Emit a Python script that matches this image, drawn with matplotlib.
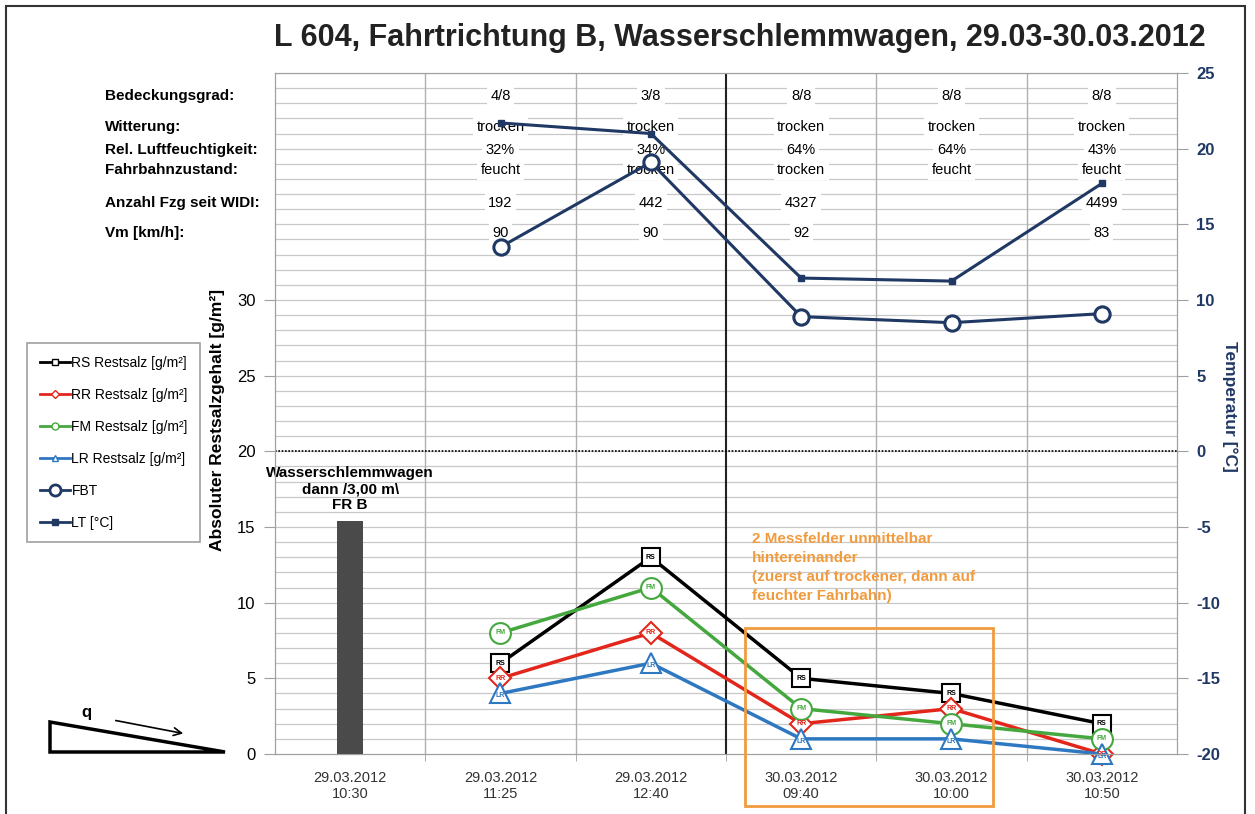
import matplotlib.pyplot as plt
from matplotlib.lines import Line2D
from matplotlib.patches import Rectangle, Polygon, FancyArrowPatch
import numpy as np

plt.rcParams['font.family'] = ['Liberation Sans', 'DejaVu Sans']
plt.rcParams['axes.unicode_minus'] = False

# data
x_labels = ['29.03.2012\n10:30', '29.03.2012\n11:25', '29.03.2012\n12:40',
            '30.03.2012\n09:40', '30.03.2012\n10:00', '30.03.2012\n10:50']
bar_value = 15.4                      # Wasserschlemmwagen dann /3,00 m\ FR B
rs = [np.nan, 6, 13, 5, 4, 2]
rr = [np.nan, 5, 8, 2, 3, 0]
fm = [np.nan, 8, 11, 3, 2, 1]
lr = [np.nan, 4, 6, 1, 1, 0]
fbt = [np.nan, 13.5, 19.1, 8.9, 8.5, 9.1]     # temperature axis
lt = [np.nan, 21.7, 21.0, 11.45, 11.25, 17.7]  # temperature axis

row_labels = ['Bedeckungsgrad:', 'Witterung:', 'Rel. Luftfeuchtigkeit:',
              'Fahrbahnzustand:', 'Anzahl Fzg seit WIDI:', 'Vm [km/h]:']
row_values = [
    ['', '4/8', '3/8', '8/8', '8/8', '8/8'],
    ['', 'trocken', 'trocken', 'trocken', 'trocken', 'trocken'],
    ['', '32%', '34%', '64%', '64%', '43%'],
    ['', 'feucht', 'trocken', 'trocken', 'feucht', 'feucht'],
    ['', '192', '442', '4327', '', '4499'],
    ['', '90', '90', '92', '', '83'],
]
row_y = [43.5, 41.45, 39.9, 38.6, 36.4, 34.4]

W, H = 1255, 814
def fx(px):
    return px / W
def fy(py):
    return 1 - py / H

navy = '#1f3864'
c_rs, c_rr, c_fm, c_lr = 'black', '#e3261c', '#45a83f', '#2e78c2'
c_orange = '#f19a3e'

fig = plt.figure(figsize=(W / 100, H / 100), dpi=100)
ax = fig.add_axes([fx(275), fy(754), fx(1177) - fx(275), fy(73) - fy(754)])
ax2 = ax.twinx()

x = np.arange(len(x_labels))
ax.set_xlim(-0.5, 5.5)
ax.set_ylim(0, 45)
ax2.set_ylim(-20, 25)

# grid
for yv in range(1, 46):
    ax.axhline(yv, color='#c8c8c8', lw=0.9, zorder=0)
for xv in [0.5, 1.5, 3.5, 4.5]:
    ax.axvline(xv, color='#b0b0b0', lw=1.0, zorder=0)
ax.axvline(2.5, color='#222222', lw=1.5, zorder=1)
ax.axhline(20, color='black', lw=1.2, ls=(0, (1, 1)), zorder=1)

for sp in ['left', 'right', 'top', 'bottom']:
    ax.spines[sp].set_color('#a0a0a0')
    ax2.spines[sp].set_color('#a0a0a0')

ax.set_yticks(range(0, 31, 5))
ax.tick_params(axis='y', labelsize=12, length=8, color='#a0a0a0', pad=6)
ax.set_xticks(x)
ax.set_xticklabels(x_labels, fontsize=10.5, color='#333333')
ax.set_xticks(np.arange(0.5, 5.5, 1), minor=True)
ax.tick_params(axis='x', which='major', length=0, pad=12)
ax.tick_params(axis='x', which='minor', length=5, color='#a0a0a0')

ax2.set_yticks(range(-20, 26, 5))
ax2.tick_params(axis='y', labelsize=12, length=8, color='#a0a0a0', labelcolor=navy, pad=6)
for t in ax2.get_yticklabels():
    t.set_fontweight('bold')

ax.set_ylabel('Absoluter Restsalzgehalt [g/m²]', fontsize=12.5, fontweight='bold', labelpad=10)
ax2.set_ylabel('Temperatur [°C]', fontsize=12.5, fontweight='bold', color=navy,
               rotation=270, labelpad=22)
ax2.yaxis.set_label_coords(1.067, 0.51)
ax.yaxis.set_label_coords(-0.055, 0.49)

# bar
ax.bar(x[0], bar_value, width=0.17, color='#4a4a4a', zorder=3)
ax.text(x[0], 19.0, 'Wasserschlemmwagen\ndann /3,00 m\\\nFR B', ha='center', va='top',
        fontsize=11, fontweight='bold', linespacing=1.15, zorder=4)

# table rows
for lab, yv in zip(row_labels, row_y):
    fig.text(fx(105), ax.transData.transform((0, yv))[1] / H, lab,
             fontsize=11, fontweight='bold', va='center', ha='left')
for vals, yv in zip(row_values, row_y):
    for xi, v in zip(x, vals):
        if v:
            ax.text(xi, yv, v, ha='center', va='center', fontsize=10.5, zorder=2,
                    bbox=dict(facecolor='white', edgecolor='none', pad=2.5))

# temperature lines
ax2.plot(x, lt, color=navy, lw=2.2, marker='s', ms=5, zorder=5)
ax2.plot(x, fbt, color=navy, lw=2.2, marker='o', ms=11, mfc='white', mew=2.2, zorder=5)

# salt lines
series = [('RS', rs, c_rs, 's', 13), ('RR', rr, c_rr, 'D', 11),
          ('FM', fm, c_fm, 'o', 15), ('LR', lr, c_lr, '^', 15)]
for name, vals, col, mk, ms in series:
    ax.plot(x, vals, color=col, lw=2.5, marker=mk, ms=ms, mfc='white', mec=col,
            mew=1.5, zorder=6, clip_on=False)
    for xi, v in zip(x, vals):
        if not np.isnan(v):
            dy = -0.15 if mk == '^' else 0
            ax.text(xi, v + dy, name, ha='center', va='center', fontsize=5,
                    fontweight='bold', color=col, zorder=7)

# legend
handles = [
    Line2D([], [], color=c_rs, lw=2, marker='s', ms=5, mfc='white', label='RS Restsalz [g/m²]'),
    Line2D([], [], color=c_rr, lw=2, marker='D', ms=4, mfc='white', label='RR Restsalz [g/m²]'),
    Line2D([], [], color=c_fm, lw=2, marker='o', ms=5, mfc='white', label='FM Restsalz [g/m²]'),
    Line2D([], [], color=c_lr, lw=2, marker='^', ms=5, mfc='white', label='LR Restsalz [g/m²]'),
    Line2D([], [], color=navy, lw=2, marker='o', ms=8, mfc='white', mew=2, label='FBT'),
    Line2D([], [], color=navy, lw=2, marker='s', ms=5, label='LT [°C]'),
]
leg = fig.legend(handles=handles, loc='upper left', bbox_to_anchor=(fx(27), fy(343)),
                 fontsize=10, frameon=True, fancybox=False, edgecolor='#888888',
                 handlelength=2.2, handletextpad=0.1, labelspacing=1.3,
                 borderpad=0.9, borderaxespad=0)
leg.get_frame().set_linewidth(1.2)

# orange box and note
fig.add_artist(Rectangle((fx(745), fy(806)), fx(993) - fx(745), fy(628) - fy(806),
                         fill=False, edgecolor=c_orange, lw=2, transform=fig.transFigure))
fig.text(fx(752), fy(532), '2 Messfelder unmittelbar\nhintereinander\n'
         '(zuerst auf trockener, dann auf\nfeuchter Fahrbahn)',
         ha='left', va='top', fontsize=11, fontweight='bold', color=c_orange,
         linespacing=1.45)

# slope sketch
fig.add_artist(Polygon([(fx(50), fy(722)), (fx(50), fy(752)), (fx(225), fy(752))],
                       closed=True, fill=False, edgecolor='black', lw=2.5,
                       transform=fig.transFigure))
fig.add_artist(FancyArrowPatch((fx(113), fy(720)), (fx(186), fy(734)),
                               arrowstyle='->', mutation_scale=14, lw=1.2,
                               color='black', transform=fig.transFigure))
fig.text(fx(86), fy(712), 'q', fontsize=12, fontweight='bold', ha='center', va='center')

# title and frame
fig.text(fx(740), fy(38), 'L 604, Fahrtrichtung B, Wasserschlemmwagen, 29.03-30.03.2012',
         ha='center', va='center', fontsize=22, fontweight='bold', color='#222222')
fig.add_artist(Rectangle((fx(6), fy(830)), fx(1245) - fx(6), fy(6) - fy(830),
                         fill=False, edgecolor='#333333', lw=1.5, transform=fig.transFigure))

fig.savefig('out.png', dpi=100)
